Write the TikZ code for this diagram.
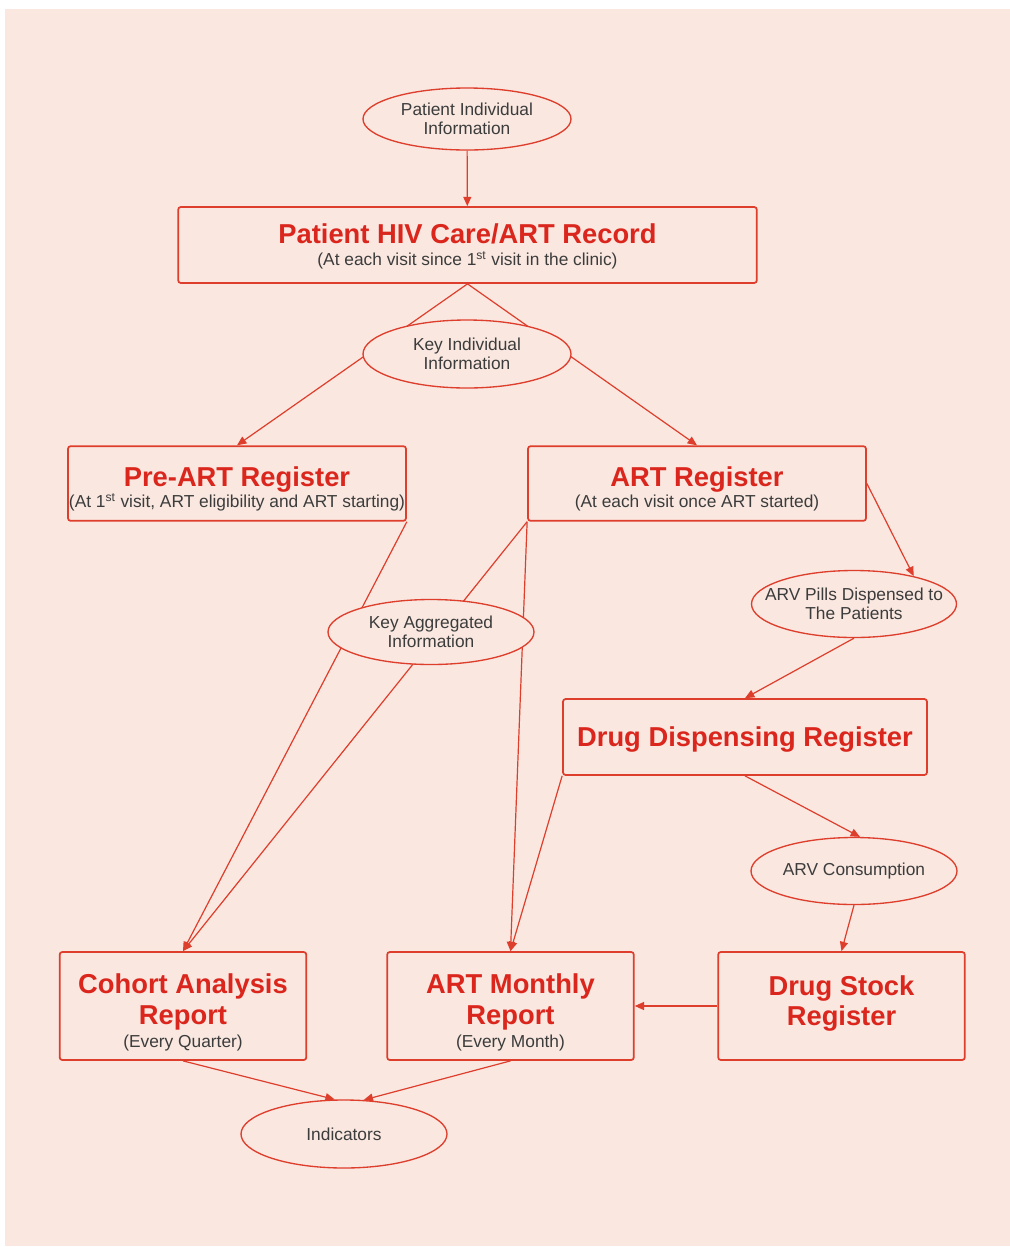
\documentclass[tikz,border=0pt]{standalone}
\usepackage{fontspec}
\setmainfont{Liberation Sans}
\usepackage{xcolor}
\definecolor{bgpink}{RGB}{249,231,224}
\definecolor{hivred}{RGB}{222,62,44}
\definecolor{ttlred}{RGB}{218,38,28}
\definecolor{txtgray}{RGB}{60,60,60}
\usepackage{tikz}
\usetikzlibrary{shapes,arrows.meta,positioning}
\pgfdeclarelayer{back}
\pgfdeclarelayer{edges}
\pgfsetlayers{back,edges,main}
\newcommand{\ttlfont}{\bfseries\fontsize{20.5}{23}\selectfont}
\newcommand{\subfont}{\mdseries\fontsize{13}{15}\selectfont\color{txtgray}}

\begin{document}
\begin{tikzpicture}[x=0.75pt, y=-0.75pt,
    box/.style={draw=hivred, line width=1.3pt, rounded corners=2pt, fill=bgpink,
      inner sep=0pt},
    boxtext/.style={align=center, text=ttlred, inner sep=0pt, font=\ttlfont},
    oval/.style={ellipse, draw=hivred, line width=1pt, fill=bgpink, inner sep=0pt},
    ovaltext/.style={align=center, text=txtgray, inner sep=0pt,
      font=\fontsize{13}{14.5}\selectfont},
    link/.style={draw=hivred, line width=0.9pt},
    flow/.style={link, -{Triangle[length=7pt,width=6pt]}}]
    \useasboundingbox (0,0) rectangle (1010,1247);
    \begin{pgfonlayer}{back}
      \fill[white] (0,0) rectangle (1010,1247);
      \fill[bgpink] (5,9) rectangle (1010,1246);
    \end{pgfonlayer}

    %  patient record at the top
    \node[oval, minimum width=156pt, minimum height=46.5pt,
      label={[ovaltext]center:Patient Individual\\Information}] (pii) at (467,119) {};
    \node[box, minimum width=434pt, minimum height=57pt,
      label={[boxtext, yshift=-1pt]center:{Patient HIV Care/ART Record\\[-6.75pt]
       \subfont (At each visit since 1\textsuperscript{st} visit in the clinic)}}]
      (rec) at (467.5,245) {};
    \node[oval, minimum width=156pt, minimum height=51pt,
      label={[ovaltext]center:Key Individual\\Information}] (kii) at (467,354) {};

    %  the two registers
    \node[box, minimum width=253.5pt, minimum height=56pt,
      label={[boxtext, yshift=-4pt]center:{Pre-ART Register\\[-7.5pt]
       \subfont (At 1\textsuperscript{st} visit, ART eligibility and ART starting)}}]
      (pre) at (237,483.5) {};
    \node[box, minimum width=253.5pt, minimum height=56pt,
      label={[boxtext, yshift=-4pt]center:{ART Register\\[-7.5pt]
       \subfont (At each visit once ART started)}}]
      (art) at (697,483.5) {};

    %  aggregation and drug side
    \node[oval, minimum width=154.5pt, minimum height=48.75pt,
      label={[ovaltext]center:Key Aggregated\\Information}] (kai) at (431,632) {};
    \node[oval, minimum width=153.75pt, minimum height=50.25pt,
      label={[ovaltext]center:ARV Pills Dispensed to\\The Patients}] (pills) at (854,604) {};
    \node[box, minimum width=273pt, minimum height=57pt,
      label={[boxtext, yshift=-2pt]center:Drug Dispensing Register}] (dd) at (745,737) {};
    \node[oval, minimum width=154.5pt, minimum height=50.25pt,
      label={[ovaltext]center:ARV Consumption}] (cons) at (854,871) {};

    %  reports
    \node[box, minimum width=185pt, minimum height=81pt,
      label={[boxtext, yshift=-5pt]center:{Cohort Analysis\\ Report\\[-5.5pt]
       \subfont (Every Quarter)}}] (coh) at (183,1006) {};
    \node[box, minimum width=185pt, minimum height=81pt,
      label={[boxtext, yshift=-5pt]center:{ART Monthly\\ Report\\[-5.5pt]
       \subfont (Every Month)}}] (mon) at (510.5,1006) {};
    \node[box, minimum width=185pt, minimum height=81pt,
      label={[boxtext, yshift=2pt]center:{Drug Stock\\ Register}}] (stk) at (841.5,1006) {};
    \node[oval, minimum width=154.5pt, minimum height=51pt,
      label={[ovaltext]center:Indicators}] (ind) at (344,1134) {};

    \begin{pgfonlayer}{edges}
      \draw[flow] (pii) -- (rec);
      \draw[flow] (rec.south) -- (pre.north);
      \draw[flow] (rec.south) -- (art.north);
      \draw[flow] (pre.south east) -- (coh.north);
      \draw[flow] (art.south west) -- (coh.north);
      \draw[flow] (art.south west) -- (mon.north);
      \draw[flow] (dd.south west) -- (mon.north);
      \draw[flow] (art.east) -- (pills.25);
      \draw[flow] (pills.south) -- (dd.north);
      \draw[flow] (dd.south) -- (cons.80);
      \draw[flow] (cons.south) -- (stk.north);
      \draw[flow] (stk.west) -- (mon.east);
      \draw[flow] (coh.south) -- (ind.105);
      \draw[flow] (mon.south) -- (ind.60);
    \end{pgfonlayer}
\end{tikzpicture}
\end{document}
